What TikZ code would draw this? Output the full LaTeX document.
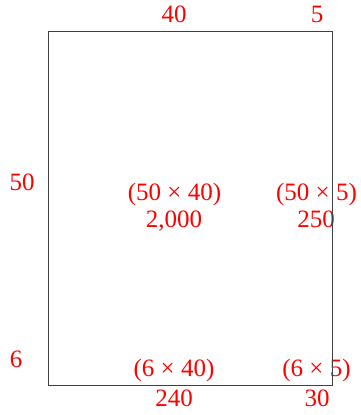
\documentclass[tikz,border=0pt]{standalone}
\usepackage{fontspec}
\setmainfont{Liberation Serif}
\usetikzlibrary{positioning}
\begin{document}
\begin{tikzpicture}[x=1pt,y=-1pt,
  lbl/.style={text=red,font=\fontsize{25}{29}\selectfont,inner sep=0pt,anchor=base},
  frame/.style={draw=black!75,line width=1pt}
]
  \useasboundingbox (0,0) rectangle (360,415);

  % Side lengths
  \node[lbl] (wbig) at (174,22.7) {40};
  \node[lbl] (wsmall) at (317,22.7) {5};
  \node[lbl] (hbig) at (22,190) {50};
  \node[lbl] (hsmall) at (16,367) {6};

  % Big part
  \node[lbl] (prodA) at (174.5,200) {(50 × 40)};
  \node[lbl] (areaA) at (174,227.3) {2,000};

  % Right strip
  \node[lbl] (prodB) at (316.5,200) {(50 × 5)};
  \node[lbl] (areaB) at (316,227.3) {250};

  % Bottom strip
  \node[lbl] (prodC) at (174,376.5) {(6 × 40)};
  \node[lbl] (areaC) at (174,406) {240};

  % Corner piece
  \node[lbl] (prodD) at (316.5,376.5) {(6 × 5)};
  \node[lbl] (areaD) at (317,406) {30};

  % Outer rectangle
  \coordinate (tl) at (48.5,31.5);
  \coordinate (br) at (332.5,385);
  \draw[frame] (tl) rectangle (br);
\end{tikzpicture}
\end{document}
